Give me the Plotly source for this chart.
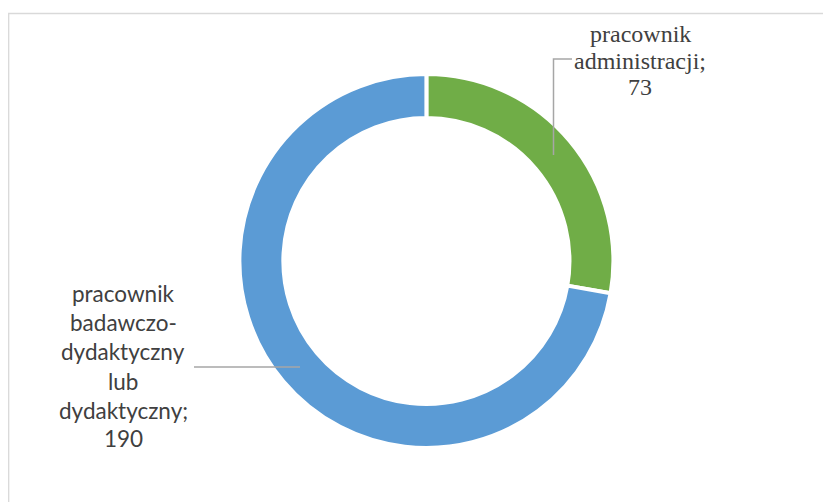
import plotly.graph_objects as go

# page body margin offsets the figure by 8px in the screenshot
OFF = 8
W, H = 831 - OFF, 502 - OFF

categories = ["pracownik administracji", "pracownik badawczo-dydaktyczny lub dydaktyczny"]
values = [73, 190]
colors = ["#70AD47", "#5B9BD5"]

label_admin_lines = ["pracownik", "administracji;", "73"]
label_dyd_lines = ["pracownik", "badawczo-", "dydaktyczny", "lub", "dydaktyczny;", "190"]


def px(x):
    return (x - OFF) / W


def py(y):
    return 1 - (y - OFF) / H


# donut geometry (screenshot pixels)
cx, cy, r = 426.4, 261.0, 187.0

fig = go.Figure(go.Pie(
    labels=categories,
    values=values,
    sort=False,
    direction="clockwise",
    rotation=0,
    hole=0.765,
    marker=dict(colors=colors, line=dict(color="white", width=4)),
    textinfo="none",
    hoverinfo="label+value",
    showlegend=False,
    domain=dict(x=[px(cx - r), px(cx + r)], y=[py(cy + r), py(cy - r)]),
))

annotations = []
# top label (serif)
for line, base in zip(label_admin_lines, [41.7, 69.0, 95.5]):
    annotations.append(dict(
        x=px(640), y=py(base - 0.3375 * 24), xref="paper", yref="paper",
        text=line, showarrow=False, xanchor="center", yanchor="middle",
        font=dict(family="Liberation Serif", size=24, color="#404040"),
    ))
# left label (sans)
for line, base in zip(label_dyd_lines, [302, 331, 360.5, 390, 419, 447]):
    annotations.append(dict(
        x=px(123), y=py(base - 0.38 * 22.5), xref="paper", yref="paper",
        text=line, showarrow=False, xanchor="center", yanchor="middle",
        font=dict(family="Lato", size=22.5, color="#404040"),
    ))

shapes = [
    # chart border
    dict(type="rect", xref="paper", yref="paper",
         x0=px(8.7), y0=py(530), x1=px(860), y1=py(13.5),
         line=dict(color="#D9D9D9", width=1.3), fillcolor="rgba(0,0,0,0)", layer="below"),
    # leader line top
    dict(type="path", xref="paper", yref="paper",
         path=f"M {px(572)} {py(59)} L {px(553.5)} {py(59)} L {px(553.5)} {py(155)}",
         line=dict(color="#A6A6A6", width=1.5)),
    # leader line left
    dict(type="line", xref="paper", yref="paper",
         x0=px(194), y0=py(367), x1=px(300), y1=py(367),
         line=dict(color="#A6A6A6", width=1.5)),
]

fig.update_layout(
    width=W, height=H,
    margin=dict(l=0, r=0, t=0, b=0),
    paper_bgcolor="white",
    plot_bgcolor="white",
    annotations=annotations,
    shapes=shapes,
)

fig.write_html("out.html")
